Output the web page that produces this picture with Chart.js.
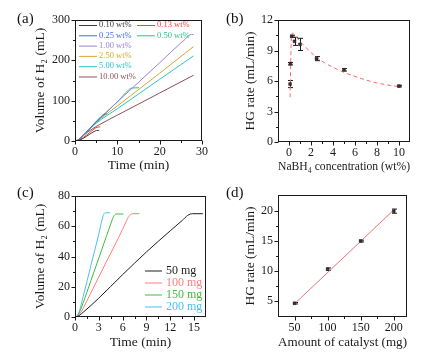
<!DOCTYPE html>
<html>
<head>
<meta charset="utf-8">
<script src="https://cdn.jsdelivr.net/npm/chart.js@4/dist/chart.umd.min.js"></script>
<style>
html,body{margin:0;padding:0;background:#fff;}
#fig{position:relative;width:424px;height:361px;overflow:hidden;}
.pane{position:absolute;}
.tag{position:absolute;font:15px "Liberation Serif",serif;color:#111;line-height:1;}
</style>
</head>
<body>
<div id="fig">
  <canvas id="cA" class="pane" width="212" height="180" style="left:0;top:0"></canvas>
  <canvas id="cB" class="pane" width="212" height="180" style="left:212px;top:0"></canvas>
  <canvas id="cC" class="pane" width="212" height="181" style="left:0;top:180px"></canvas>
  <canvas id="cD" class="pane" width="212" height="181" style="left:212px;top:180px"></canvas>
  <div class="tag" style="left:17px;top:11px">(a)</div>
  <div class="tag" style="left:226px;top:11px">(b)</div>
  <div class="tag" style="left:17px;top:185px">(c)</div>
  <div class="tag" style="left:226px;top:185px">(d)</div>
</div>
<script>
// (a) H2 volume vs time, one curve per NaBH4 loading  [time min, volume mL]
const concLabels=['0.10 wt%','0.13 wt%','0.25 wt%','0.50 wt%','1.00 wt%','2.50 wt%','5.00 wt%','10.00 wt%'];
const concColors=['#3a3a3a','#ff3b3b','#3f6fdc','#2fbf80','#9a80d8','#d8a630','#28c6c6','#8f5058'];
const h2_010=[[0,0],[0.8,1],[2,7],[3.5,17],[4.5,23.5],[5.1,26],[5.7,26.5]];
const h2_013=[[0,0],[0.7,1],[2,9],[3.5,21],[4.5,30],[5.2,34],[6,35]];
const h2_025=[[0,0],[0.5,1],[2,15],[5,48],[6.2,61],[6.8,66],[7.6,67]];
const h2_050=[[0,0],[0.5,1],[2,14],[5,46],[10,97],[12.6,126],[13.3,131],[15.1,132]];
const h2_100=[[0,0],[0.5,1],[2,15],[5,48],[10,97],[20,194],[25,243],[26,252],[26.8,261],[27.5,264],[28,264]];
const h2_250=[[0,0],[0.5,1],[2,14],[5,46],[10,87],[20,168],[28,234]];
const h2_500=[[0,0],[0.5,1],[2,14],[5,44],[10,80],[20,153],[28,211]];
const h2_1000=[[0,0],[0.5,1],[1.5,9],[3,22],[5,36],[10,64],[20,119],[28,163]];
const timeTicksA=[0,10,20,30];
const volTicksA=[0,100,200,300];

// (b) HG rate vs NaBH4 concentration
const concWt=[0.1,0.13,0.25,0.5,1,2.5,5,10];
const rateB=[5.7,7.7,10.4,9.9,9.6,8.2,7.1,5.5];
const rateErrB=[0.35,0.12,0.1,0.4,0.6,0.2,0.12,0.08];
const fitB=[[0.1,4.4],[0.15,7.5],[0.2,9.8],[0.25,10.6],[0.35,10.7],[0.6,10.4],[1,9.9],[1.5,9.35],[2,8.8],[2.5,8.35],[3,7.95],[4,7.35],[5,6.85],[6,6.45],[7,6.1],[8,5.8],[9,5.6],[10,5.45]];
const concTicksB=[0,2,4,6,8,10];
const rateTicksB=[0,3,6,9,12];

// (c) H2 volume vs time for catalyst amounts
const massLabels=['50 mg','100 mg','150 mg','200 mg'];
const massColors=['#1e1e1e','#ff7f7f','#3cbf3c','#4cc0f0'];
const h2_50mg=[[0,0],[0.3,0.3],[1,3],[3,12.5],[6,28],[9,43],[12,57],[13.5,63.8],[14.2,67.2],[14.8,68.3],[16.1,68.3]];
const h2_100mg=[[0,0],[0.2,0.3],[0.6,2],[1,5.5],[2,16],[4,37],[6,58],[6.5,63.8],[6.9,67.3],[7.3,68.3],[8.1,68.3]];
const h2_150mg=[[0,0],[0.2,0.4],[0.5,2.5],[1,9],[2,24],[3,39],[4,54],[4.5,61.5],[4.85,66.3],[5.2,68.1],[6.1,68.1]];
const h2_200mg=[[0,0],[0.2,0.5],[0.5,3],[1,13],[2,34],[3,55],[3.3,62],[3.55,67],[3.8,68.9],[4.4,68.9]];
const timeTicksC=[0,3,6,9,12,15];
const volTicksC=[0,20,40,60,80];

// (d) HG rate vs amount of catalyst
const catalystMg=[50,100,150,200];
const rateD=[4.6,10.3,15.0,20.0];
const rateErrD=[0.12,0.2,0.15,0.35];
const fitD=[[50,4.5],[200,20.2]];
const massTicksD=[50,100,150,200];
const rateTicksD=[5,10,15,20];

const SERIF='"Liberation Serif", "Times New Roman", serif';
const INK='#1a1a1a';

// box frame + outward major/minor ticks, Origin style
const originFrame={
  id:'originFrame',
  afterDraw(chart){
    const {ctx,chartArea:a,scales}=chart;
    const L=Math.round(a.left)+0.5,R=Math.round(a.right)-0.5,T=Math.round(a.top)+0.5,B=Math.round(a.bottom)-0.5;
    ctx.save();
    ctx.strokeStyle=INK;ctx.lineWidth=1;
    ctx.strokeRect(L,T,R-L,B-T);
    ctx.beginPath();
    const xv=scales.x.ticks.map(t=>t.value),yv=scales.y.ticks.map(t=>t.value);
    const mids=v=>v.slice(1).map((x,i)=>(x+v[i])/2);
    xv.forEach(v=>{const p=Math.round(scales.x.getPixelForValue(v))+0.5;ctx.moveTo(p,B);ctx.lineTo(p,B+4);});
    mids(xv).forEach(v=>{const p=Math.round(scales.x.getPixelForValue(v))+0.5;ctx.moveTo(p,B);ctx.lineTo(p,B+2.5);});
    yv.forEach(v=>{const p=Math.round(scales.y.getPixelForValue(v))+0.5;ctx.moveTo(L,p);ctx.lineTo(L-4,p);});
    mids(yv).forEach(v=>{const p=Math.round(scales.y.getPixelForValue(v))+0.5;ctx.moveTo(L,p);ctx.lineTo(L-2.5,p);});
    ctx.stroke();
    ctx.restore();
  }
};

// line + coloured text legend placed inside the plot
const lineLegend={
  id:'lineLegend',
  afterDraw(chart,args,opts){
    if(!opts.items)return;
    const ctx=chart.ctx;
    ctx.save();
    ctx.font=opts.font;
    ctx.textBaseline='middle';
    opts.items.forEach(it=>{
      ctx.strokeStyle=it.color;ctx.lineWidth=1;
      ctx.beginPath();ctx.moveTo(it.x,it.y+0.5);ctx.lineTo(it.x+opts.lineLen,it.y+0.5);ctx.stroke();
      ctx.fillStyle=it.color;
      ctx.fillText(it.label,it.x+opts.lineLen+opts.gap,it.y);
    });
    ctx.restore();
  }
};

// vertical error bars with caps for dataset 0
const errorBars={
  id:'errorBars',
  beforeDatasetsDraw(chart,args,opts){
    if(!opts.errors)return;
    const {ctx,scales}=chart;
    const pts=chart.data.datasets[0].data;
    ctx.save();
    ctx.strokeStyle=opts.color||INK;ctx.lineWidth=1;
    ctx.beginPath();
    pts.forEach((p,i)=>{
      const x=Math.round(scales.x.getPixelForValue(p.x))+0.5;
      const y1=scales.y.getPixelForValue(p.y-opts.errors[i]);
      const y2=scales.y.getPixelForValue(p.y+opts.errors[i]);
      ctx.moveTo(x,y1);ctx.lineTo(x,y2);
      ctx.moveTo(x-opts.cap,y1);ctx.lineTo(x+opts.cap,y1);
      ctx.moveTo(x-opts.cap,y2);ctx.lineTo(x+opts.cap,y2);
    });
    ctx.stroke();
    ctx.restore();
  }
};

function axis(min,max,ticks,title,size,titlePad,horizontal){
  return {
    type:'linear',min,max,
    afterBuildTicks:s=>{s.ticks=ticks.map(v=>({value:v}));},
    afterFit:s=>{if(horizontal)s.height=size;else s.width=size;},
    grid:{display:false,drawTicks:false},
    border:{display:false},
    ticks:{color:INK,font:{family:SERIF,size:12},padding:horizontal?4:5,maxRotation:0,autoSkip:false},
    title:{display:true,text:title,color:INK,font:{family:SERIF,size:13.5},padding:horizontal?{top:0,bottom:titlePad}:{top:titlePad,bottom:0}}
  };
}

function baseOptions(pad,xAxis,yAxis,extra){
  return {
    responsive:false,animation:false,
    layout:{padding:pad},
    plugins:Object.assign({legend:{display:false},tooltip:{enabled:false}},extra||{}),
    scales:{x:xAxis,y:yAxis}
  };
}

function curve(points,color,order){
  return {data:points,borderColor:color,backgroundColor:color,borderWidth:1,pointRadius:0,cubicInterpolationMode:'monotone',fill:false,order:order||0};
}

// (a)  lower order is painted on top: blue, then purple, then green
const seriesA=[h2_010,h2_013,h2_025,h2_050,h2_100,h2_250,h2_500,h2_1000];
const stackA=[0,0,0,2,1,3,3,3];
const slotsA=[[0,0],[1,0],[0,1],[1,1],[0,2],[0,3],[0,4],[0,5]];
new Chart(document.getElementById('cA'),{
  type:'line',
  data:{datasets:seriesA.map((s,i)=>curve(s,concColors[i],stackA[i]))},
  options:baseOptions({left:0,top:20,right:6,bottom:0},
    axis(0,30,timeTicksA,'Time (min)',39,6,true),
    axis(0,300,volTicksA,'Volume of H\u2082 (mL)',75,32,false),
    {lineLegend:{font:'8.5px '+SERIF,lineLen:18,gap:2,
      items:concLabels.map((l,i)=>({label:l,color:concColors[i],x:slotsA[i][0]?137:79,y:25+slotsA[i][1]*10.3}))}}),
  plugins:[originFrame,lineLegend]
});

// (b)
new Chart(document.getElementById('cB'),{
  type:'scatter',
  data:{datasets:[
    {data:concWt.map((x,i)=>({x,y:rateB[i]})),pointStyle:'rect',pointRadius:2,backgroundColor:'#333',borderColor:'#222',borderWidth:0.5,order:0},
    {type:'line',data:fitB,borderColor:'#ff6a6a',borderWidth:1,borderDash:[4,3],pointRadius:0,cubicInterpolationMode:'monotone',order:1}
  ]},
  options:baseOptions({left:0,top:20,right:14,bottom:0},
    axis(-1,11,concTicksB,'NaBH\u2084 concentration (wt%)',38,5,true),
    axis(0,12,rateTicksB,'HG rate (mL/min)',66,30,false),
    {errorBars:{errors:rateErrB,cap:2.5}}),
  plugins:[originFrame,errorBars]
});

// (c)
const seriesC=[h2_50mg,h2_100mg,h2_150mg,h2_200mg];
new Chart(document.getElementById('cC'),{
  type:'line',
  data:{datasets:seriesC.map((s,i)=>curve(s,massColors[i]))},
  options:baseOptions({left:0,top:16,right:6,bottom:0},
    axis(0,16.5,timeTicksC,'Time (min)',44,10,true),
    axis(0,80,volTicksC,'Volume of H\u2082 (mL)',75,32,false),
    {lineLegend:{font:'12px '+SERIF,lineLen:17,gap:4,
      items:massLabels.map((l,i)=>({label:l,color:massColors[i],x:145,y:90.5+i*12}))}}),
  plugins:[originFrame,lineLegend]
});

// (d)
new Chart(document.getElementById('cD'),{
  type:'scatter',
  data:{datasets:[
    {data:catalystMg.map((x,i)=>({x,y:rateD[i]})),pointStyle:'rect',pointRadius:2,backgroundColor:'#333',borderColor:'#222',borderWidth:0.5,order:0},
    {type:'line',data:fitD,borderColor:'#f07070',borderWidth:1,pointRadius:0,order:1}
  ]},
  options:baseOptions({left:0,top:15,right:17,bottom:0},
    axis(25,220,massTicksD,'Amount of catalyst (mg)',44,10,true),
    axis(2.3,22.7,rateTicksD,'HG rate (mL/min)',66,30,false),
    {errorBars:{errors:rateErrD,cap:2.5}}),
  plugins:[originFrame,errorBars]
});
</script>
</body>
</html>
